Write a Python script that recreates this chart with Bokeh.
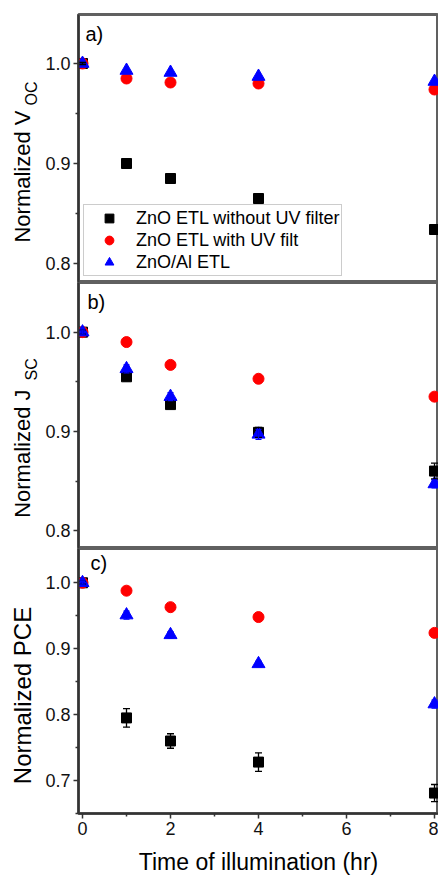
from bokeh.plotting import figure
from bokeh.layouts import column, row
from bokeh.models import (Range1d, FixedTicker, PrintfTickFormatter, Label,
                          ColumnDataSource, Whisker, TeeHead)
from bokeh.embed import file_html
from bokeh.resources import INLINE

# ---------------- data ----------------
hours = [0, 1, 2, 4, 8]

voc_no_filter = [1.000, 0.900, 0.885, 0.865, 0.834]
voc_uv_filter = [1.000, 0.985, 0.981, 0.980, 0.974]
voc_znoal = [1.000, 0.993, 0.991, 0.987, 0.982]
voc_no_filter_err = [0.001, 0.002, 0.002, 0.004, 0.004]

jsc_no_filter = [1.000, 0.955, 0.927, 0.899, 0.860]
jsc_uv_filter = [1.000, 0.990, 0.967, 0.953, 0.935]
jsc_znoal = [1.000, 0.963, 0.935, 0.897, 0.847]
jsc_no_filter_err = [0.002, 0.004, 0.004, 0.005, 0.008]
jsc_znoal_err = [0.002, 0.004, 0.004, 0.005, 0.004]

pce_no_filter = [1.000, 0.795, 0.760, 0.728, 0.681]
pce_uv_filter = [1.000, 0.988, 0.963, 0.948, 0.924]
pce_znoal = [1.000, 0.951, 0.921, 0.877, 0.816]
pce_no_filter_err = [0.002, 0.014, 0.011, 0.014, 0.013]
pce_znoal_err = [0.002, 0.006, 0.005, 0.004, 0.006]

series_names = ["ZnO ETL without UV filter", "ZnO ETL with UV filt", "ZnO/Al ETL"]
x_ticks = [0, 2, 4, 6, 8]
x_minor = [1, 3, 5, 7]
x_title = "Time of illumination (hr)"

FONT = "Liberation Sans"
AX_COLOR = "#333333"
TOTAL_H = 877
LEFT_W = 40
W = 438 - LEFT_W
H_A, H_B, H_C = 282, 266, 329

x_range = Range1d(-0.091, 8.091)


def make_fig(height, y0, y1, yticks, yminor, with_x=False, top=0):
    p = figure(width=W, height=height, x_range=x_range, y_range=Range1d(y0, y1),
               x_axis_location="below" if with_x else None,
               output_backend="svg", toolbar_location=None,
               min_border_left=78 - LEFT_W, min_border_right=0,
               min_border_top=top, min_border_bottom=0)
    p.grid.visible = False
    p.outline_line_color = "#606060"
    p.outline_line_width = 3
    p.background_fill_color = "white"
    p.border_fill_color = "white"
    ya = p.yaxis[0]
    ya.ticker = FixedTicker(ticks=yticks, minor_ticks=yminor)
    ya.formatter = PrintfTickFormatter(format="%.1f")
    axes = [ya]
    if with_x:
        xa = p.xaxis[0]
        xa.ticker = FixedTicker(ticks=x_ticks, minor_ticks=x_minor)
        xa.formatter = PrintfTickFormatter(format="%d")
        xa.axis_label = x_title
        xa.axis_label_text_font = FONT
        xa.axis_label_text_font_size = "23px"
        xa.axis_label_text_font_style = "normal"
        xa.axis_label_text_color = "black"
        xa.axis_label_standoff = 11
        axes.append(xa)
    for a in axes:
        a.axis_line_color = AX_COLOR
        a.axis_line_width = 2
        a.major_tick_line_color = AX_COLOR
        a.minor_tick_line_color = AX_COLOR
        a.major_tick_line_width = 1.5
        a.minor_tick_line_width = 1.5
        a.major_tick_out = 5
        a.major_tick_in = 0
        a.minor_tick_out = 3
        a.minor_tick_in = 0
        a.major_label_text_font = FONT
        a.major_label_text_font_size = "18px"
        a.major_label_text_color = "#111111"
        a.major_label_standoff = 3
    return p


def add_series(p, a, b, c, err_a=None, err_c=None, legend=False):
    kw = lambda i: {"legend_label": series_names[i]} if legend else {}
    if err_a is not None:
        src = ColumnDataSource(dict(x=hours,
                                    upper=[v + e for v, e in zip(a, err_a)],
                                    lower=[v - e for v, e in zip(a, err_a)]))
        p.add_layout(Whisker(source=src, base="x", upper="upper", lower="lower",
                             line_color="black", line_width=1.3, level="glyph",
                             upper_head=TeeHead(size=7, line_color="black", line_width=1.3),
                             lower_head=TeeHead(size=7, line_color="black", line_width=1.3)))
    p.scatter(hours, a, marker="square", size=10, color="black", **kw(0))
    p.scatter(hours, b, marker="circle", size=11, color="#ff0000", **kw(1))
    if err_c is not None:
        src = ColumnDataSource(dict(x=hours,
                                    upper=[v + e for v, e in zip(c, err_c)],
                                    lower=[v - e for v, e in zip(c, err_c)]))
        p.add_layout(Whisker(source=src, base="x", upper="upper", lower="lower",
                             line_color="#0000ff", line_width=1.3, level="glyph",
                             upper_head=TeeHead(size=6, line_color="#0000ff", line_width=1.3),
                             lower_head=TeeHead(size=6, line_color="#0000ff", line_width=1.3)))
    p.scatter(hours, c, marker="triangle", size=13, color="#0000ff", **kw(2))


def panel_label(p, txt, x, y):
    p.add_layout(Label(x=x, y=y, x_units="screen", y_units="screen", text=txt,
                       text_align="left", text_baseline="middle",
                       text_font=FONT, text_font_size="20px", text_color="black"))


# ---- panel a : Voc ----
pa = make_fig(H_A, 0.781, 1.049, [0.8, 0.9, 1.0], [0.85, 0.95], top=14)
add_series(pa, voc_no_filter, voc_uv_filter, voc_znoal, err_a=voc_no_filter_err, legend=True)
panel_label(pa, "a)", 7, 249)
lg = pa.legend[0]
lg.location = (5, 6)
lg.label_text_font = FONT
lg.label_text_font_size = "18px"
lg.label_text_color = "black"
lg.padding = 2
lg.spacing = 0
lg.margin = 0
lg.glyph_width = 46
lg.glyph_height = 22
lg.label_height = 22
lg.label_standoff = 4
lg.border_line_color = "#999999"
lg.border_line_width = 1.5
lg.background_fill_color = "white"
lg.background_fill_alpha = 1.0

# ---- panel b : Jsc ----
pb = make_fig(H_B, 0.782, 1.050, [0.8, 0.9, 1.0], [0.85, 0.95])
add_series(pb, jsc_no_filter, jsc_uv_filter, jsc_znoal, err_a=jsc_no_filter_err, err_c=jsc_znoal_err)
panel_label(pb, "b)", 9, 247)

# ---- panel c : PCE ----
pc = make_fig(H_C, 0.650, 1.052, [0.7, 0.8, 0.9, 1.0], [0.65, 0.75, 0.85, 0.95], with_x=True)
add_series(pc, pce_no_filter, pce_uv_filter, pce_znoal, err_a=pce_no_filter_err, err_c=pce_znoal_err)
panel_label(pc, "c)", 12, 251)

# ---- left strip holding the rotated y-axis titles ----
pl = figure(width=LEFT_W, height=TOTAL_H, x_range=Range1d(0, 1), y_range=Range1d(0, 1),
            x_axis_location=None, y_axis_location=None,
            output_backend="svg", toolbar_location=None,
            min_border_left=0, min_border_right=0, min_border_top=0, min_border_bottom=0)
pl.grid.visible = False
pl.outline_line_color = None


def vtext(txt, x, y, size, align):
    pl.add_layout(Label(x=x, y=y, x_units="screen", y_units="screen", text=txt,
                        angle=90, angle_units="deg", text_align=align,
                        text_baseline="middle", text_font=FONT,
                        text_font_size=size, text_color="black"))


# panel a title: "Normalized V" + subscript "OC"
vtext("Normalized V", 22, TOTAL_H - 110, "22px", "right")
vtext("OC", 31, TOTAL_H - 105, "16px", "left")
# panel b title: "Normalized J" + subscript "SC"
vtext("Normalized J", 22, TOTAL_H - 389, "22px", "right")
vtext("SC", 31, TOTAL_H - 380, "16px", "left")
# panel c title
vtext("Normalized PCE", 22, TOTAL_H - 695, "24px", "center")

layout = row(pl, column(pa, pb, pc, spacing=0), spacing=0)

open("out.html", "w").write(file_html(layout, INLINE))
